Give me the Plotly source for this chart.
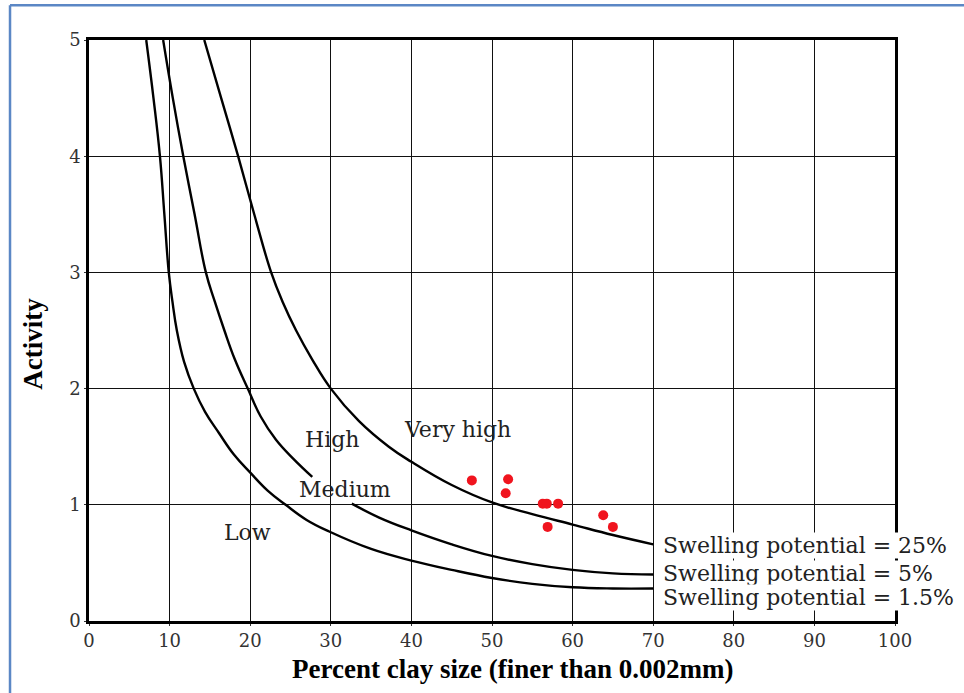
import plotly.graph_objects as go

# Swelling-potential boundaries (percent clay vs activity), read as points
clay_sp25 = [14.3, 16.4, 18.5, 20.5, 22.6, 24.0, 25.7, 27.7, 30.0, 33.5, 37.2, 40, 45, 50, 55, 60, 65, 70]
act_sp25 = [5.0, 4.5, 4.0, 3.5, 3.0, 2.75, 2.5, 2.25, 2.0, 1.72, 1.5, 1.37, 1.17, 1.02, 0.92, 0.83, 0.74, 0.66]

clay_sp5 = [9.2, 10.4, 11.7, 13.1, 14.5, 15.6, 16.8, 18.1, 19.7, 21.3, 23.2, 25.3, 27.7,
            None, 32.6, 36, 40, 45, 50, 55, 60, 65, 70]
act_sp5 = [5.0, 4.5, 4.0, 3.5, 3.0, 2.75, 2.5, 2.25, 2.0, 1.76, 1.56, 1.4, 1.24,
           None, 1.01, 0.89, 0.78, 0.66, 0.56, 0.49, 0.44, 0.41, 0.40]

clay_sp15 = [7.1, 8.0, 8.8, 9.35, 9.9, 10.35, 10.9, 11.8, 13.0, 14.4, 16.1, 18.0, 20.1,
             22.2, 24.4, 27.0, 29.8, 35, 40, 45, 50, 55, 60, 65, 70]
act_sp15 = [5.0, 4.5, 4.0, 3.5, 3.0, 2.75, 2.5, 2.23, 2.0, 1.8, 1.62, 1.43, 1.27,
            1.12, 1.0, 0.87, 0.77, 0.62, 0.52, 0.44, 0.37, 0.32, 0.29, 0.28, 0.28]

# Tested soil samples
sample_clay = [47.5, 52.0, 51.7, 56.3, 56.8, 58.2, 56.9, 63.8, 65.0]
sample_activity = [1.21, 1.22, 1.10, 1.01, 1.01, 1.01, 0.81, 0.91, 0.81]

x_ticks = [0, 10, 20, 30, 40, 50, 60, 70, 80, 90, 100]
y_ticks = [0, 1, 2, 3, 4, 5]

zone_labels = ["Very high", "High", "Medium", "Low"]
zone_x = [45.7, 30.1, 31.8, 19.7]
zone_y = [1.65, 1.56, 1.13, 0.76]

curve_labels = ["Swelling potential = 25%", "Swelling potential = 5%",
                "Swelling potential = 1.5%"]
curve_label_x = [71.1, 71.1, 71.1]
curve_label_y = [0.65, 0.41, 0.20]

serif = "DejaVu Serif"
line_style = dict(color="black", width=2.4, shape="spline", smoothing=1.2)

fig = go.Figure()
for cx, cy in [(clay_sp25, act_sp25), (clay_sp5, act_sp5), (clay_sp15, act_sp15)]:
    fig.add_trace(go.Scatter(x=cx, y=cy, mode="lines", line=line_style,
                             connectgaps=False, hoverinfo="skip"))

fig.add_trace(go.Scatter(x=sample_clay, y=sample_activity, mode="markers",
                         marker=dict(color="#f0141e", size=10, symbol="circle")))

for txt, xx, yy in zip(zone_labels, zone_x, zone_y):
    fig.add_annotation(x=xx, y=yy, text=txt, showarrow=False,
                       font=dict(family=serif, size=22, color="#222"))

for txt, xx, yy in zip(curve_labels, curve_label_x, curve_label_y):
    fig.add_annotation(x=xx, y=yy, text=txt, showarrow=False, xanchor="left",
                       bgcolor="white", borderpad=0,
                       font=dict(family=serif, size=22, color="#222"))

# Axis titles
fig.add_annotation(xref="paper", yref="paper", x=0.526, y=-0.083, yanchor="middle",
                   text="<b>Percent clay size (finer than 0.002mm)</b>", showarrow=False,
                   font=dict(family="Liberation Serif", size=27, color="black"))
fig.add_annotation(xref="paper", yref="paper", x=-0.09, y=0.478, textangle=-90,
                   text="<b>Activity</b>", showarrow=False,
                   font=dict(family="Liberation Serif", size=27, color="black"))

# Page frame
frame = dict(color="#5b87c5", width=2.5)
fig.add_shape(type="line", xref="paper", yref="paper", x0=-0.098, x1=1.09,
              y0=1.060, y1=1.060, line=frame)
fig.add_shape(type="line", xref="paper", yref="paper", x0=-0.098, x1=-0.098,
              y0=1.060, y1=-0.13, line=frame)

axis_common = dict(showline=True, mirror=True, linecolor="black", linewidth=2.6,
                   showgrid=True, gridcolor="#111", gridwidth=1.4, zeroline=False,
                   ticks="outside", ticklen=2, tickcolor="#333",
                   tickfont=dict(family=serif, size=18, color="#333"))

fig.update_xaxes(range=[0, 100], tickvals=x_ticks, ticktext=[str(v) for v in x_ticks],
                 **axis_common)
fig.update_yaxes(range=[0, 5], tickvals=y_ticks, ticktext=[str(v) for v in y_ticks],
                 **axis_common)

fig.update_layout(width=964, height=693, showlegend=False,
                  paper_bgcolor="white", plot_bgcolor="white",
                  margin=dict(l=89, r=69, t=40, b=72))

fig.write_html("out.html")
